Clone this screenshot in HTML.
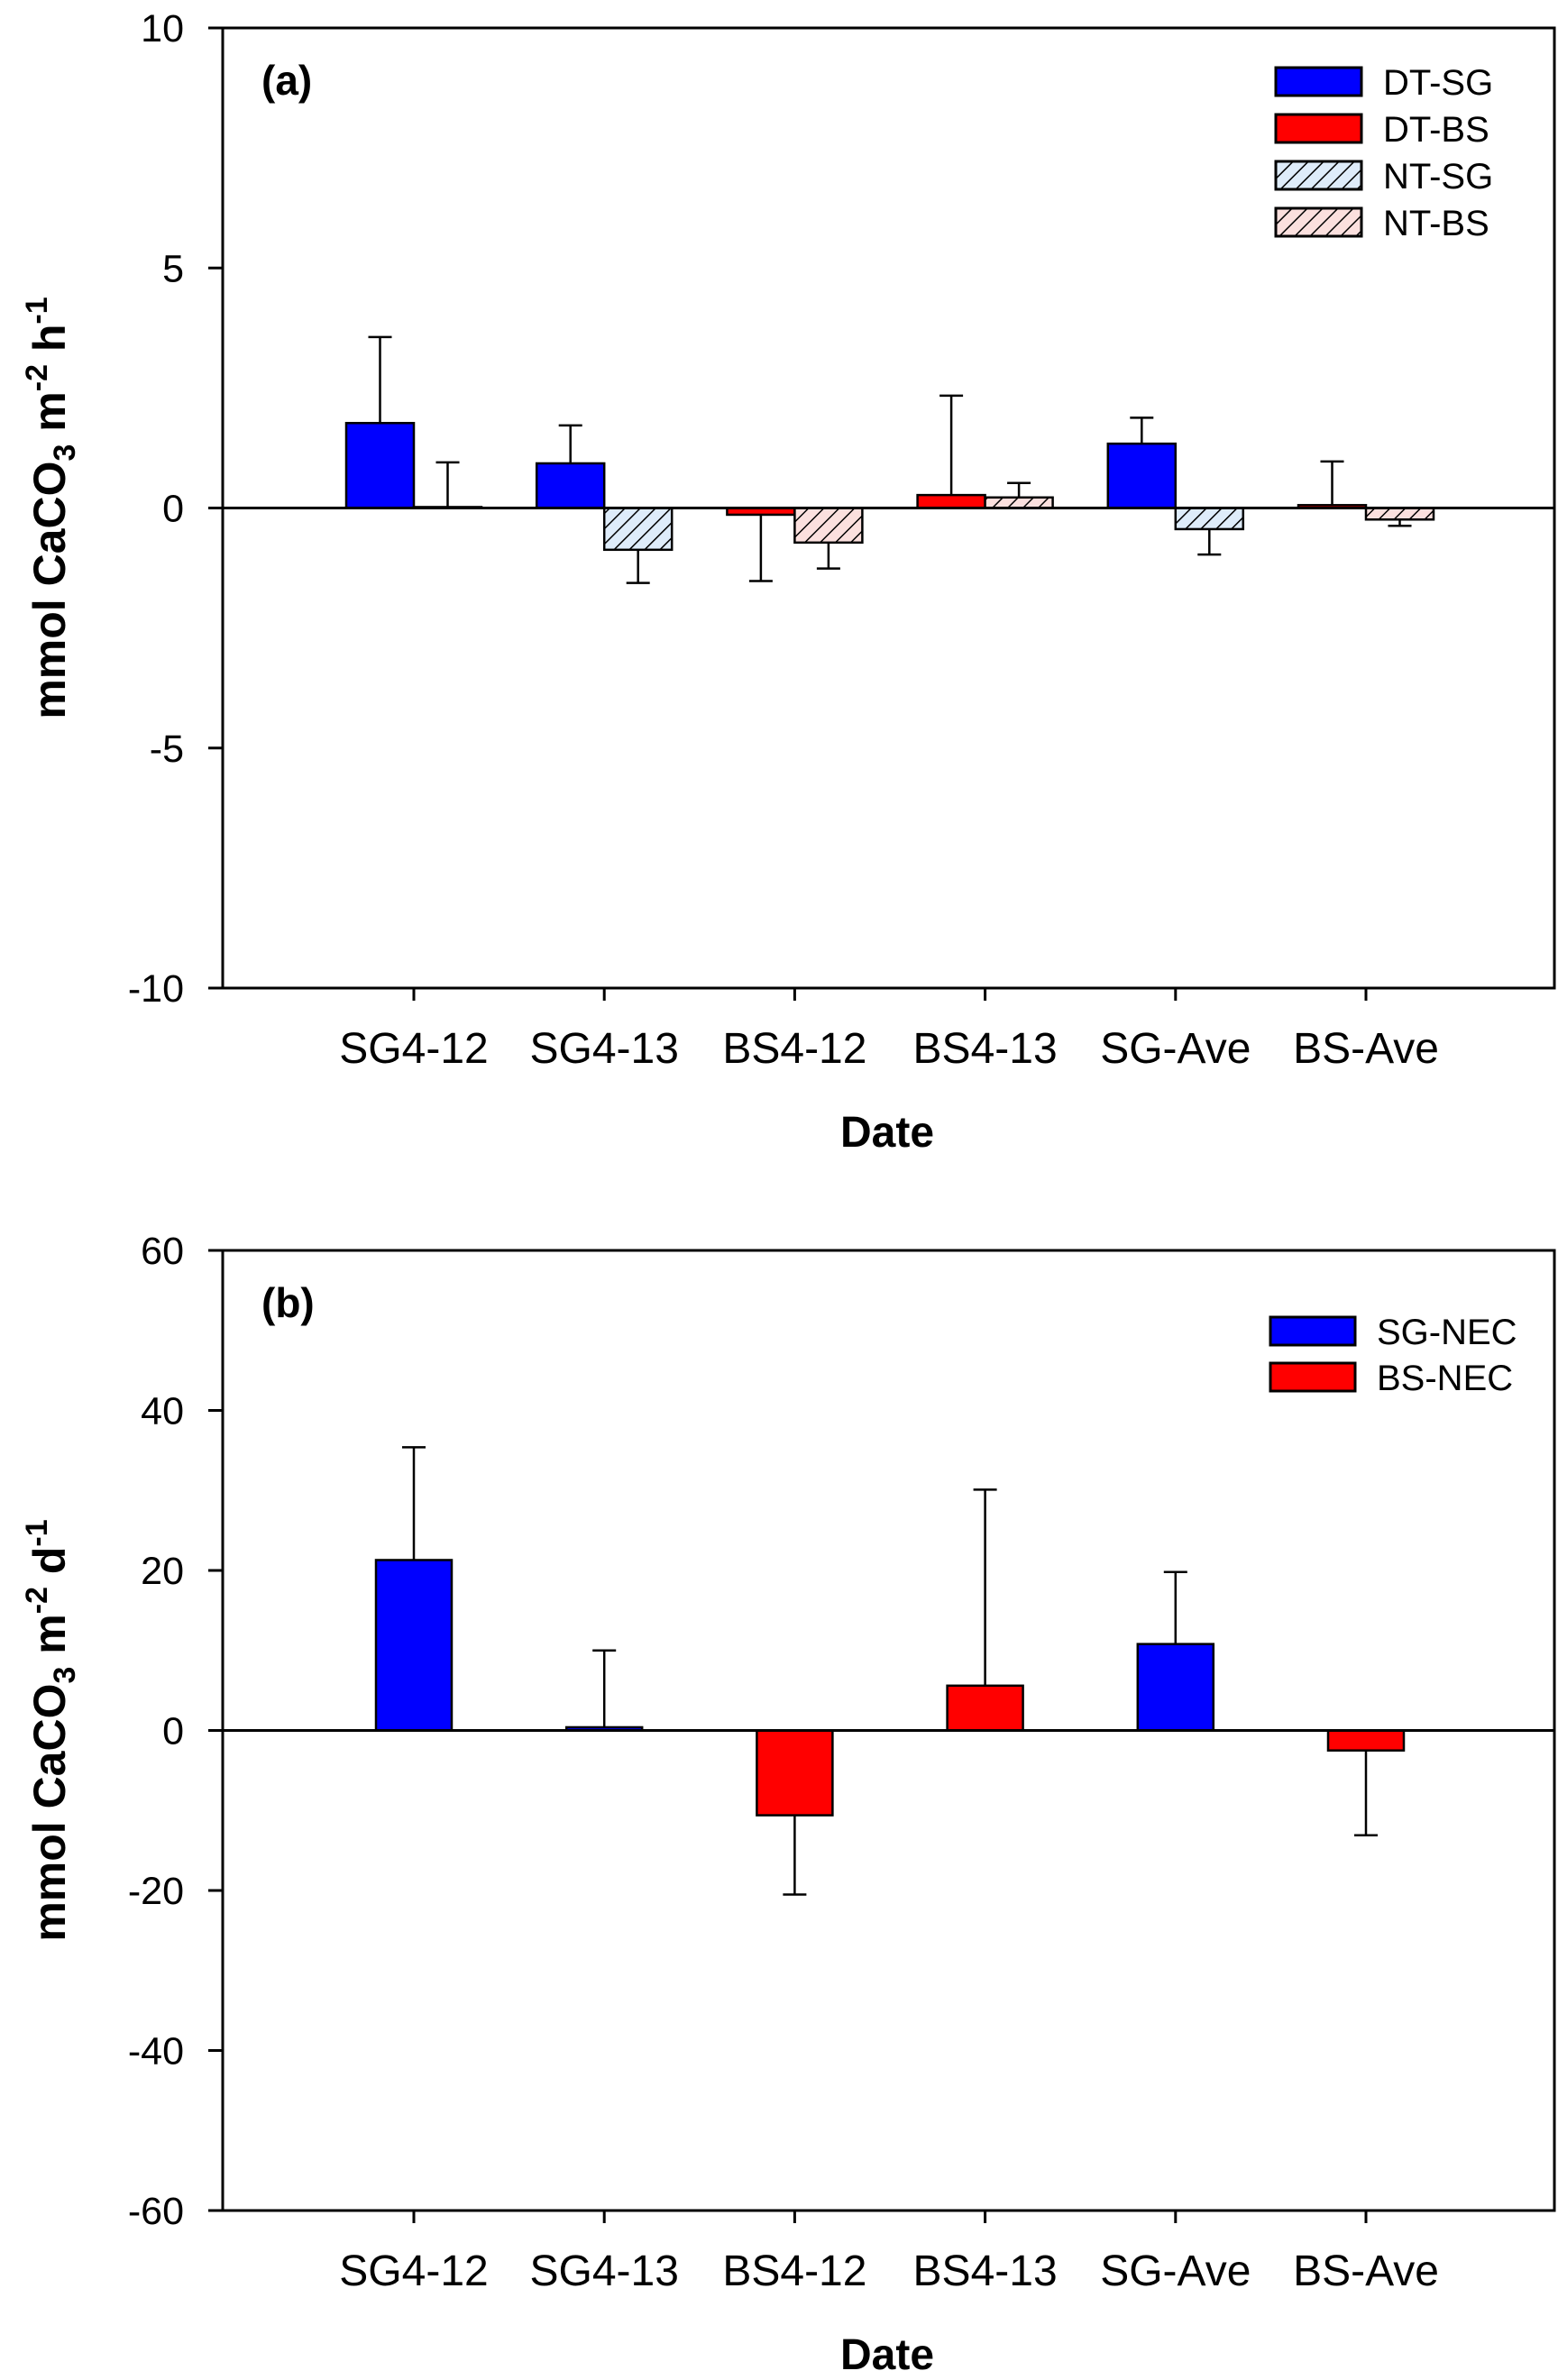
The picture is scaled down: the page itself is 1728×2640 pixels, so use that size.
<!DOCTYPE html>
<html><head><meta charset="utf-8"><style>
html,body{margin:0;padding:0;background:#fff;}
svg{display:block;font-family:"Liberation Sans",Arial,sans-serif;}
</style></head><body>
<svg id="fig" width="1728" height="2640" viewBox="0 0 1728 2640" xmlns="http://www.w3.org/2000/svg">
<defs>
<pattern id="hatchBlue" patternUnits="userSpaceOnUse" width="12" height="12" patternTransform="rotate(45)">
<rect width="12" height="12" fill="#deecfa"/><line x1="0" y1="0" x2="0" y2="12" stroke="#000" stroke-width="3"/></pattern>
<pattern id="hatchPink" patternUnits="userSpaceOnUse" width="12" height="12" patternTransform="rotate(45)">
<rect width="12" height="12" fill="#fbe0de"/><line x1="0" y1="0" x2="0" y2="12" stroke="#000" stroke-width="3"/></pattern>
</defs>
<g id="panelA"></g>
<g id="panelB"></g>
</svg>
<script>
const categories = ["SG4-12","SG4-13","BS4-12","BS4-13","SG-Ave","BS-Ave"];
// Panel (a)
const dtVals = [1.77, 0.93, -0.14, 0.27, 1.34, 0.06];
const dtErr = [3.56, 1.72, -1.52, 2.34, 1.88, 0.97];
const dtColor = ["#0000ff","#0000ff","#ff0000","#ff0000","#0000ff","#ff0000"];
const ntVals = [0.02, -0.87, -0.72, 0.22, -0.44, -0.24];
const ntErr = [0.95, -1.56, -1.26, 0.52, -0.97, -0.37];
const ntFill = ["url(#hatchBlue)","url(#hatchBlue)","url(#hatchPink)","url(#hatchPink)","url(#hatchBlue)","url(#hatchPink)"];
const aTicks = [10, 5, 0, -5, -10];
const aLegend = ["DT-SG","DT-BS","NT-SG","NT-BS"];
// Panel (b)
const necVals = [21.3, 0.4, -10.6, 5.6, 10.8, -2.5];
const necErr = [35.4, 10.0, -20.5, 30.1, 19.8, -13.1];
const necColor = ["#0000ff","#0000ff","#ff0000","#ff0000","#0000ff","#ff0000"];
const bTicks = [60, 40, 20, 0, -20, -40, -60];
const bLegend = ["SG-NEC","BS-NEC"];

const NS = "http://www.w3.org/2000/svg";
function mk(parent, tag, attrs, text){
  const e = document.createElementNS(NS, tag);
  for (const k in attrs) e.setAttribute(k, attrs[k]);
  if (text !== undefined) e.textContent = text;
  parent.appendChild(e);
  return e;
}
const L = 247, R = 1724;
const xScale = i => 459 + i * 211.2;

function axes(g, top, bottom, min, max, ticks, title, unitLetter, label){
  const y = v => top + (max - v) / (max - min) * (bottom - top);
  const frame = mk(g, "rect", {x:L, y:top, width:R-L, height:bottom-top, fill:"none", stroke:"#000", "stroke-width":3});
  
  
  ticks.forEach(t => {
    const tl = mk(g, "line", {x1:L-16, x2:L, y1:y(t), y2:y(t), stroke:"#000", "stroke-width":3});
    
    
    const tx = mk(g, "text", {x:204, y:y(t)+15, "text-anchor":"end", "font-size":43}, String(t));
    
    
  });
  categories.forEach((c, i) => {
    const tl = mk(g, "line", {x1:xScale(i), x2:xScale(i), y1:bottom, y2:bottom+14, stroke:"#000", "stroke-width":3});
    
    
    const tx = mk(g, "text", {x:xScale(i), y:bottom+83, "text-anchor":"middle", "font-size":48}, c);
    
    
  });
  const zero = mk(g, "line", {x1:L, x2:R, y1:y(0), y2:y(0), stroke:"#000", "stroke-width":3});
  
  
  const xt = mk(g, "text", {x:984, y:bottom+176, "text-anchor":"middle", "font-size":48, "font-weight":"bold"}, "Date");
  
  
  const cy = (top + bottom) / 2;
  const yt = mk(g, "text", {x:72, y:cy, "text-anchor":"middle", "font-size":50, "font-weight":"bold", transform:`rotate(-90 72 ${cy})`});
  
  
  mk(yt, "tspan", {}, "mmol CaCO");
  mk(yt, "tspan", {dy:11, "font-size":34}, "3");
  mk(yt, "tspan", {dy:-11}, " m");
  mk(yt, "tspan", {dy:-20, "font-size":34}, "-2");
  mk(yt, "tspan", {dy:20}, " " + unitLetter);
  mk(yt, "tspan", {dy:-20, "font-size":34}, "-1");
  const pl = mk(g, "text", {x:290, y:top+74, "font-size":46, "font-weight":"bold"}, label);
  
  
  return y;
}
function bar(g, x0, w, v, err, fill, y, name){
  const y0 = y(0), yv = y(v), ye = y(err);
  const cx = x0 + w/2;
  const el = mk(g, "line", {x1:cx, x2:cx, y1:yv, y2:ye, stroke:"#000", "stroke-width":2.5});
  
  
  const cap = mk(g, "line", {x1:cx-13, x2:cx+13, y1:ye, y2:ye, stroke:"#000", "stroke-width":2.5});
  
  
  const r = mk(g, "rect", {x:x0, y:Math.min(y0,yv), width:w, height:Math.max(Math.abs(yv-y0),1), fill:fill, stroke:"#000", "stroke-width":2.5});
  
  
}

// Panel A
const gA = document.getElementById("panelA");
const yA = axes(gA, 31, 1096, -10, 10, aTicks, "", "h", "(a)");
categories.forEach((c, i) => {
  bar(gA, xScale(i)-75, 75, dtVals[i], dtErr[i], dtColor[i], yA, "bar-dt-" + c.toLowerCase());
  bar(gA, xScale(i), 75, ntVals[i], ntErr[i], ntFill[i], yA, "bar-nt-" + c.toLowerCase());
});
mk(gA, "line", {x1:L, x2:R, y1:yA(0), y2:yA(0), stroke:"#000", "stroke-width":3});
const aFills = ["#0000ff","#ff0000","url(#hatchBlue)","url(#hatchPink)"];
aLegend.forEach((t, i) => {
  const ly = 75 + i*52;
  const sw = mk(gA, "rect", {x:1415, y:ly, width:95, height:31, fill:aFills[i], stroke:"#000", "stroke-width":3});
  
  
  const tx = mk(gA, "text", {x:1534, y:ly+30, "font-size":40}, t);
  
  
});

// Panel B
const gB = document.getElementById("panelB");
const yB = axes(gB, 1387, 2452, -60, 60, bTicks, "", "d", "(b)");
categories.forEach((c, i) => {
  bar(gB, xScale(i)-42, 84, necVals[i], necErr[i], necColor[i], yB, "bar-nec-" + c.toLowerCase());
});
mk(gB, "line", {x1:L, x2:R, y1:yB(0), y2:yB(0), stroke:"#000", "stroke-width":3});
const bFills = ["#0000ff","#ff0000"];
bLegend.forEach((t, i) => {
  const ly = 1461 + i*51;
  const sw = mk(gB, "rect", {x:1409, y:ly, width:94, height:31, fill:bFills[i], stroke:"#000", "stroke-width":3});
  
  
  const tx = mk(gB, "text", {x:1527, y:ly+30, "font-size":40}, t);
  
  
});
</script>
</body></html>
